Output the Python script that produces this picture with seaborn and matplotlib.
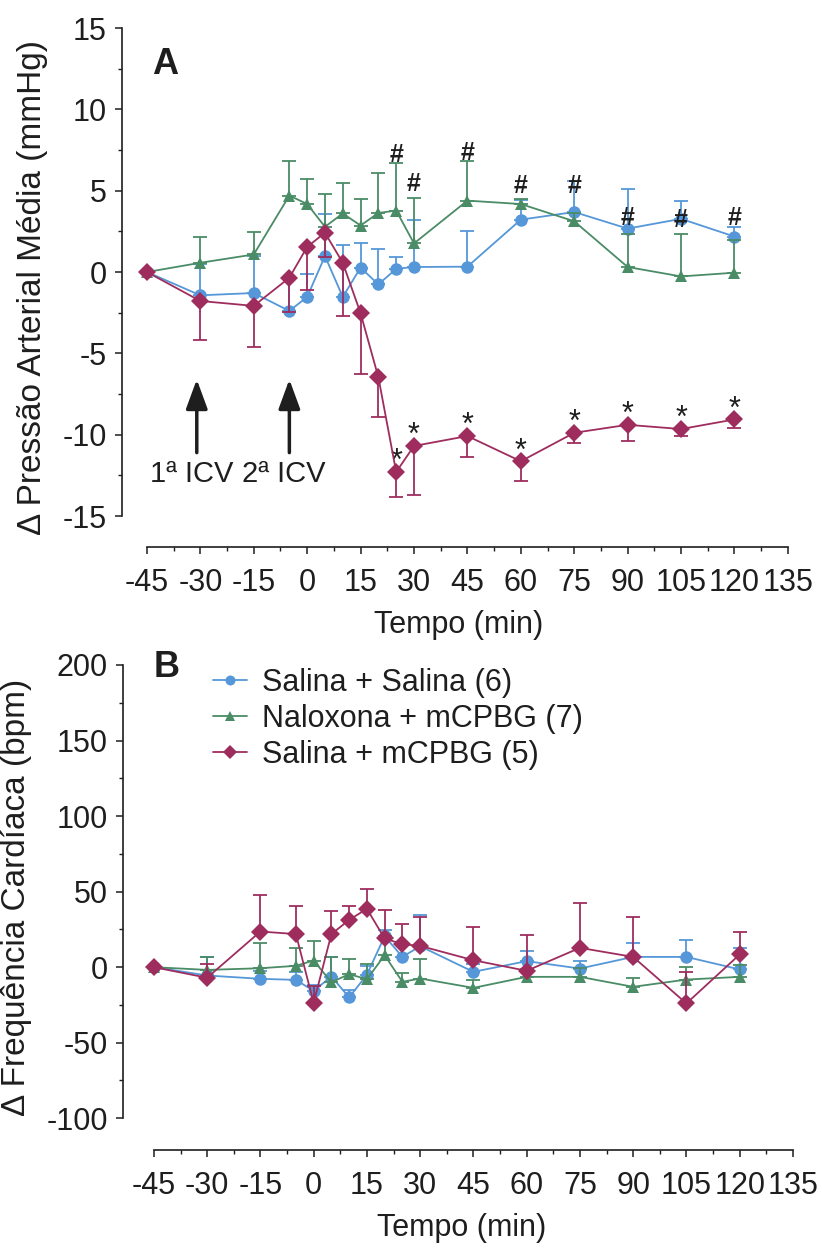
import pandas as pd
import seaborn as sns
import matplotlib
matplotlib.use("Agg")
from matplotlib import pyplot as plt
from matplotlib.ticker import MultipleLocator, FixedLocator

sns.set_theme(style="ticks")
plt.rcParams['font.family'] = ['Liberation Sans', 'DejaVu Sans']
plt.rcParams['axes.unicode_minus'] = False

# time points (min)
tempo = [-45, -30, -15, -5, 0, 5, 10, 15, 20, 25, 30, 45, 60, 75, 90, 105, 120]

# A - mean arterial pressure change (mmHg), mean and SEM
pam_sal_sal = [0, -1.43, -1.29, -2.39, -1.53, 0.98, -1.53, 0.27, -0.76, 0.20, 0.31, 0.33, 3.22, 3.69, 2.67, 3.27, 2.18]
pam_sal_sal_err = [0, 1.9, 2.3, 2.0, 1.4, 2.6, 3.2, 1.5, 2.15, 0.7, 2.9, 2.2, 1.2, 1.9, 2.45, 1.1, 0.6]
pam_nal = [0, 0.57, 1.08, 4.7, 4.18, 2.78, 3.6, 2.86, 3.63, 3.78, 1.76, 4.39, 4.18, 3.12, 0.31, -0.27, -0.04]
pam_nal_err = [0, 1.6, 1.4, 2.1, 1.55, 2.0, 1.85, 1.6, 2.45, 2.9, 2.8, 2.45, 0.3, 0.5, 2.0, 2.6, 2.0]
pam_sal_m = [0, -1.78, -2.08, -0.35, 1.55, 2.41, 0.57, -2.53, -6.47, -12.29, -10.69, -10.08, -11.63, -9.88, -9.39, -9.65, -9.06]
pam_sal_m_err = [0, 2.4, 2.55, 2.1, 2.67, 1.5, 3.26, 3.74, 2.45, 1.53, 3.0, 1.29, 1.2, 0.63, 1.0, 0.45, 0.53]

# B - heart rate change (bpm), mean and SEM
fc_sal_sal = [0, -5.5, -7.7, -8.4, -15.7, -6.2, -20, -5, 20.5, 6.8, 13.9, -3.1, 4, -0.9, 6.8, 6.8, -1.5]
fc_sal_sal_err = [0, 12, 5, 5, 4, 13, 5, 6, 4, 8, 20.5, 5, 6.8, 5, 9, 11, 14.5]
fc_nal = [0, -1.8, -0.7, 0.9, 4.4, -10, -4.6, -8, 7.9, -9.7, -7.5, -13.7, -6.4, -6.4, -13, -8.2, -6.4]
fc_nal_err = [0, 8.4, 16.6, 12, 13, 16.6, 10, 10, 12, 6, 12.6, 5, 5, 6, 6, 8, 8]
fc_sal_m = [0, -7, 23.6, 21.9, -23.6, 21.9, 31.3, 38.6, 19, 15.2, 14.1, 4.6, -2.4, 12.8, 6.8, -24, 8.4]
fc_sal_m_err = [0, 8.8, 24.3, 18.7, 11.4, 15, 9.3, 13.3, 19, 13.3, 19.2, 22, 24, 30, 26.5, 21, 15]

grupos = ["Salina + Salina (6)", "Naloxona + mCPBG (7)", "Salina + mCPBG (5)"]

# significance marks in A
tempo_sig = [25, 30, 45, 60, 75, 90, 105, 120]
hash_y = [7.2, 5.4, 7.3, 5.3, 5.3, 3.3, 3.2, 3.3]
icv_tempo = [-31, -5]
icv_texto = ["1ª ICV", "2ª ICV"]

cores = ["#5597d8", "#4a8c66", "#9e2d5e"]
marcadores = ["o", "^", "D"]
tam = [9, 9, 9.5]
tinta = "#1e1e1e"

fig = plt.figure(figsize=(8.22, 12.5), dpi=100)
ax_a = fig.add_axes([122/822, (1250-547)/1250, (795-122)/822, (547-28)/1250])
ax_b = fig.add_axes([123/822, (1250-1150)/1250, (800-123)/822, (1150-665)/1250])

painel_a = [(pam_sal_sal, pam_sal_sal_err, "up"),
            (pam_nal, pam_nal_err, "up"),
            (pam_sal_m, pam_sal_m_err, "down")]
painel_b = [(fc_sal_sal, fc_sal_sal_err, "up"),
            (fc_nal, fc_nal_err, "up"),
            (fc_sal_m, fc_sal_m_err, "up")]

for ax, painel in [(ax_a, painel_a), (ax_b, painel_b)]:
    for i, (vals, errs, lado) in enumerate(painel):
        df = pd.DataFrame({"tempo": tempo, "valor": vals, "erro": errs})
        zero = [0] * len(errs)
        yerr = [zero, errs] if lado == "up" else [errs, zero]
        ax.errorbar(df["tempo"], df["valor"], yerr=yerr, fmt="none",
                    ecolor=cores[i], elinewidth=1.3, capsize=5, capthick=1.3,
                    zorder=2 + i)
        sns.lineplot(data=df, x="tempo", y="valor", ax=ax, color=cores[i],
                     marker=marcadores[i], markersize=tam[i], markeredgewidth=0,
                     linewidth=1.3, label=grupos[i], zorder=3 + i, errorbar=None)

# axes formatting
for ax in (ax_a, ax_b):
    sns.despine(ax=ax)
    ax.set_xticks(range(-45, 136, 15))
    ax.xaxis.set_minor_locator(FixedLocator([t + 7.5 for t in range(-45, 135, 15)]))
    ax.spines["bottom"].set_bounds(-45, 135)
    ax.tick_params(which="major", length=5, width=1.1, labelsize=22, pad=6, colors=tinta)
    ax.tick_params(which="minor", length=3, width=1.0, colors=tinta)
    ax.tick_params(axis="x", pad=10)
    for s in ("left", "bottom"):
        ax.spines[s].set_linewidth(1.2)
        ax.spines[s].set_color(tinta)
    ax.set_xlabel("Tempo (min)", fontsize=22, labelpad=9, color=tinta)

ax_a.set_xlim(-52, 137)
ax_a.set_ylim(-16.9, 15)
ax_a.set_yticks(range(-15, 16, 5))
ax_a.yaxis.set_minor_locator(MultipleLocator(2.5))
ax_a.spines["left"].set_bounds(-15, 15)
ax_a.set_ylabel("Δ Pressão Arterial Média (mmHg)", fontsize=24, labelpad=10, color=tinta)
ax_a.get_legend().remove()

ax_b.set_xlim(-53.7, 137)
ax_b.set_ylim(-121, 200)
ax_b.set_yticks(range(-100, 201, 50))
ax_b.yaxis.set_minor_locator(MultipleLocator(25))
ax_b.spines["left"].set_bounds(-100, 200)
ax_b.set_ylabel("Δ Frequência Cardíaca (bpm)", fontsize=24, labelpad=6, color=tinta)
ax_b.yaxis.set_label_coords(-0.135, 0.52)

# significance marks
for t, y in zip(tempo_sig, hash_y):
    ax_a.text(t, y, "#", ha="center", va="center", fontsize=18, fontweight="bold", color=tinta)
for t in tempo_sig:
    v = pam_sal_m[tempo.index(t)]
    ax_a.annotate("*", (t, v), xytext=(0, 7), textcoords="offset points",
                  ha="center", va="center", fontsize=22, color=tinta)

# ICV arrows
for t, txt in zip(icv_tempo, icv_texto):
    ax_a.annotate("", xy=(t, -6.6), xytext=(t, -11.1),
                  arrowprops=dict(arrowstyle="-|>,head_length=0.6,head_width=0.22",
                                  mutation_scale=30, lw=2.5, color=tinta,
                                  shrinkA=0, shrinkB=0))
    ax_a.text(t - 1.5, -12.4, txt, ha="center", va="center", fontsize=21, color=tinta)

ax_a.text(0.064, 0.929, "A", transform=ax_a.transAxes, ha="center", va="center",
          fontsize=26, fontweight="bold", color=tinta)
ax_b.text(0.064, 0.994, "B", transform=ax_b.transAxes, ha="center", va="center",
          fontsize=26, fontweight="bold", color=tinta)

ax_b.legend(loc="upper left", bbox_to_anchor=(0.115, 1.02), frameon=False,
            fontsize=22, handlelength=1.1, handletextpad=0.5, labelspacing=0.2,
            borderaxespad=0, markerscale=0.8, labelcolor=tinta)

plt.savefig("out.png", dpi=100)
